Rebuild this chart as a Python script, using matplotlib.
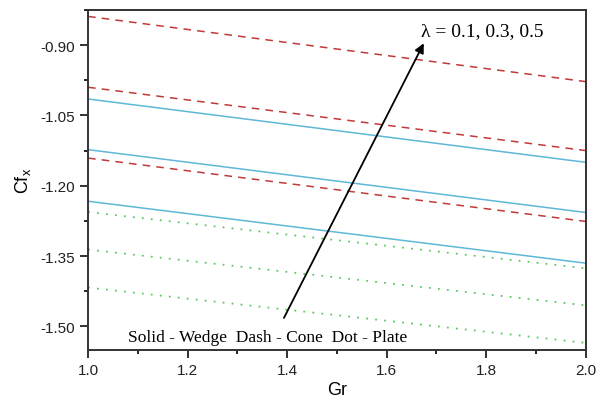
import numpy as np
import matplotlib
matplotlib.use('Agg')
from matplotlib import pyplot as plt
from matplotlib.ticker import MultipleLocator

# Gr nas pontas do grafico
gr = [1.0, 2.0]

# Wedge (solida), lambda = 0.1, 0.3, 0.5
wedge = [[-1.233, -1.365],
         [-1.123, -1.257],
         [-1.015, -1.150]]
# Cone (tracejada)
cone = [[-1.141, -1.276],
        [-0.990, -1.125],
        [-0.839, -0.978]]
# Plate (pontilhada)
plate = [[-1.417, -1.535],
         [-1.336, -1.455],
         [-1.256, -1.376]]

plt.rcParams['font.family'] = ['Liberation Sans', 'DejaVu Sans']

fig = plt.figure(figsize=(5.99, 4.02), dpi=100)
ax = fig.add_axes([0.147, 0.127, 0.831, 0.846])

for w in wedge:
    ax.plot(gr, w, '-', color='#5fb8d8', lw=1.1)
for c in cone:
    ax.plot(gr, c, '--', color='#c03a3a', lw=1.1, dashes=(5, 4))
for p in plate:
    ax.plot(gr, p, ':', color='#5cc85c', lw=1.3, dashes=(1, 4))

ax.set_xlim(1.0, 2.0)
ax.set_ylim(-1.55, -0.825)
ax.set_xticks([1.0, 1.2, 1.4, 1.6, 1.8, 2.0])
ax.set_yticks([-1.50, -1.35, -1.20, -1.05, -0.90])
ax.xaxis.set_minor_locator(MultipleLocator(0.1))
ax.yaxis.set_minor_locator(MultipleLocator(0.075))
ax.set_xticklabels(['1.0', '1.2', '1.4', '1.6', '1.8', '2.0'])
ax.set_yticklabels(['-1.50', '-1.35', '-1.20', '-1.05', '-0.90'])
ax.tick_params(which='major', direction='out', length=6, width=1.3, labelsize=11, colors='#222222')
ax.tick_params(which='minor', direction='out', length=3, width=1.2)
for s in ax.spines.values():
    s.set_linewidth(1.4)
    s.set_color('#333333')

ax.set_xlabel('Gr', fontsize=13, labelpad=3)
ax.set_ylabel(r'Cf$_\mathregular{x}$', fontsize=13, labelpad=5)

# seta lambda
ax.annotate('', xy=(1.677, -0.891), xytext=(1.391, -1.487),
            arrowprops=dict(arrowstyle='-|>', color='black', lw=1.3, mutation_scale=14))
ax.text(1.668, -0.870, 'λ = 0.1, 0.3, 0.5', fontsize=14,
        family=['Liberation Serif', 'DejaVu Serif'], va='center', ha='left')
ax.text(1.08, -1.522, 'Solid - Wedge  Dash - Cone  Dot - Plate', fontsize=12.5,
        family=['Liberation Serif', 'DejaVu Serif'], va='center', ha='left')

fig.savefig('out.png', dpi=100)
